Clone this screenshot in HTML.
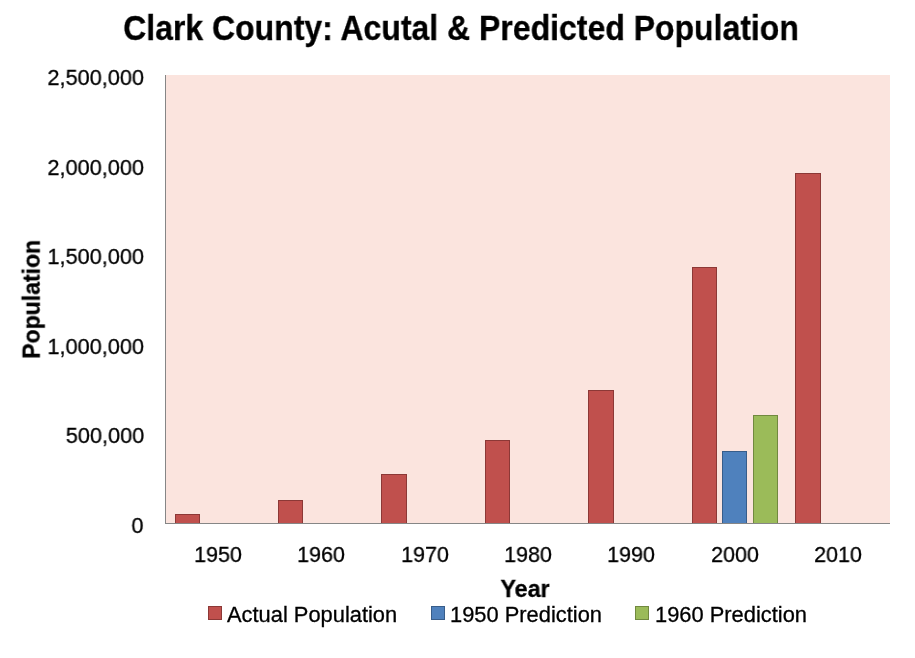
<!DOCTYPE html><html><head><meta charset="utf-8"><style>
html,body{margin:0;padding:0;background:#fff;}
body{width:915px;height:658px;position:relative;overflow:hidden;font-family:"Liberation Sans",sans-serif;color:#000;}
.t{position:absolute;white-space:nowrap;will-change:transform;-webkit-text-stroke:0.3px #000;}
.c{text-align:center;}
.b{position:absolute;box-sizing:border-box;border:1px solid;}
.r{background:#C0504D;border-color:#8C3836;}
.u{background:#4F81BD;border-color:#385D8A;}
.g{background:#9BBB59;border-color:#71893F;}
</style></head><body>
<div style="position:absolute;left:166px;top:75px;width:724px;height:448px;background:#FBE4DE;"></div>
<div class="b r" style="left:175px;top:514px;width:25px;height:10px;"></div>
<div class="b r" style="left:278px;top:500px;width:25px;height:24px;"></div>
<div class="b r" style="left:381px;top:474px;width:26px;height:50px;"></div>
<div class="b r" style="left:485px;top:440px;width:25px;height:84px;"></div>
<div class="b r" style="left:588px;top:390px;width:26px;height:134px;"></div>
<div class="b r" style="left:692px;top:267px;width:25px;height:257px;"></div>
<div class="b r" style="left:795px;top:173px;width:26px;height:351px;"></div>
<div class="b u" style="left:722px;top:451px;width:25px;height:73px;"></div>
<div class="b g" style="left:753px;top:415px;width:25px;height:109px;"></div>
<div style="position:absolute;left:165px;top:75px;width:1px;height:449px;background:#868686;"></div>
<div style="position:absolute;left:165px;top:523px;width:725px;height:1px;background:#868686;"></div>
<div class="t c" style="left:-39.50px;width:1000px;top:10.17px;font-size:35px;line-height:35px;font-weight:bold;transform:scaleX(0.9136);transform-origin:50% 0;">Clark County: Acutal &amp; Predicted Population</div>
<div class="t" style="right:771.00px;top:66.95px;font-size:22.5px;line-height:22.5px;transform:scaleX(0.966);transform-origin:100% 0;">2,500,000</div>
<div class="t" style="right:771.00px;top:156.55px;font-size:22.5px;line-height:22.5px;transform:scaleX(0.966);transform-origin:100% 0;">2,000,000</div>
<div class="t" style="right:771.00px;top:246.15px;font-size:22.5px;line-height:22.5px;transform:scaleX(0.966);transform-origin:100% 0;">1,500,000</div>
<div class="t" style="right:771.00px;top:335.75px;font-size:22.5px;line-height:22.5px;transform:scaleX(0.966);transform-origin:100% 0;">1,000,000</div>
<div class="t" style="right:771.00px;top:425.35px;font-size:22.5px;line-height:22.5px;transform:scaleX(0.966);transform-origin:100% 0;">500,000</div>
<div class="t" style="right:771.00px;top:514.95px;font-size:22.5px;line-height:22.5px;transform:scaleX(0.966);transform-origin:100% 0;">0</div>
<div class="t c" style="left:-282.29px;width:1000px;top:543.95px;font-size:22.5px;line-height:22.5px;transform:scaleX(0.955);transform-origin:50% 0;">1950</div>
<div class="t c" style="left:-178.86px;width:1000px;top:543.95px;font-size:22.5px;line-height:22.5px;transform:scaleX(0.955);transform-origin:50% 0;">1960</div>
<div class="t c" style="left:-75.43px;width:1000px;top:543.95px;font-size:22.5px;line-height:22.5px;transform:scaleX(0.955);transform-origin:50% 0;">1970</div>
<div class="t c" style="left:28.00px;width:1000px;top:543.95px;font-size:22.5px;line-height:22.5px;transform:scaleX(0.955);transform-origin:50% 0;">1980</div>
<div class="t c" style="left:131.43px;width:1000px;top:543.95px;font-size:22.5px;line-height:22.5px;transform:scaleX(0.955);transform-origin:50% 0;">1990</div>
<div class="t c" style="left:234.86px;width:1000px;top:543.95px;font-size:22.5px;line-height:22.5px;transform:scaleX(0.955);transform-origin:50% 0;">2000</div>
<div class="t c" style="left:338.29px;width:1000px;top:543.95px;font-size:22.5px;line-height:22.5px;transform:scaleX(0.955);transform-origin:50% 0;">2010</div>
<div class="t c" style="left:-110.50px;top:278.98px;width:300px;font-size:24px;line-height:24px;font-weight:bold;transform-origin:150.0px 20.32px;transform:rotate(-90deg) scaleX(0.959);">Population</div>
<div class="t c" style="left:24.50px;width:1000px;top:576.68px;font-size:24px;line-height:24px;font-weight:bold;transform:scaleX(0.972);transform-origin:50% 0;">Year</div>
<div class="b r" style="left:208px;top:606px;width:14px;height:14px;"></div>
<div class="t" style="left:227.20px;top:605.30px;font-size:21.5px;line-height:21.5px;transform:scaleX(1.017);transform-origin:0 0;">Actual Population</div>
<div class="b u" style="left:431px;top:606px;width:14px;height:14px;"></div>
<div class="t" style="left:450.20px;top:605.30px;font-size:21.5px;line-height:21.5px;transform:scaleX(1.017);transform-origin:0 0;">1950 Prediction</div>
<div class="b g" style="left:635px;top:606px;width:14px;height:14px;"></div>
<div class="t" style="left:654.60px;top:605.30px;font-size:21.5px;line-height:21.5px;transform:scaleX(1.017);transform-origin:0 0;">1960 Prediction</div>
</body></html>
